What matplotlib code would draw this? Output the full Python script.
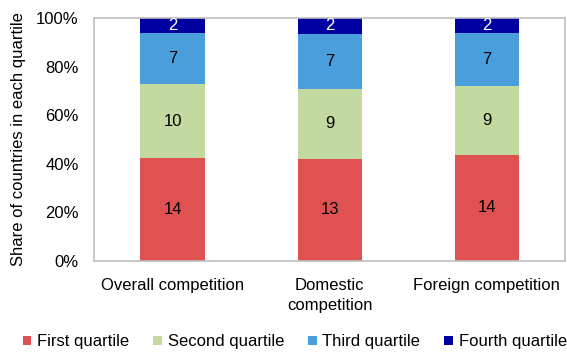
import matplotlib.pyplot as plt
import numpy as np

plt.rcParams['font.family'] = ['Liberation Sans', 'DejaVu Sans']

# Number of countries in each quartile, by type of competition
categories = ["Overall competition", "Domestic\ncompetition", "Foreign competition"]
quartiles = ["First quartile", "Second quartile", "Third quartile", "Fourth quartile"]
first = [14, 13, 14]
second = [10, 9, 9]
third = [7, 7, 7]
fourth = [2, 2, 2]
colors = ["#E05252", "#C2DA9F", "#4A9EDC", "#0000A0"]
text_colors = ["black", "black", "black", "white"]

counts = np.array([first, second, third, fourth], dtype=float)
shares = counts / counts.sum(axis=0) * 100

fig = plt.figure(figsize=(5.67, 3.54), dpi=100)
ax = fig.add_axes([0.166, 0.263, 0.831, 0.686])

fs = 12
x = np.arange(len(categories))
bottom = np.zeros(len(categories))
for i, name in enumerate(quartiles):
    bars = ax.bar(x, shares[i], 0.41, bottom=bottom, color=colors[i], label=name)
    for j, b in enumerate(bars):
        ax.text(b.get_x() + b.get_width() / 2, bottom[j] + shares[i][j] / 2,
                str(int(counts[i][j])), ha="center", va="center",
                fontsize=fs, color=text_colors[i])
    bottom += shares[i]

ax.set_xlim(-0.5, 2.5)
ax.set_ylim(0, 100)
ax.set_yticks(np.arange(0, 101, 20))
ax.set_yticklabels([f"{v}%" for v in range(0, 101, 20)], fontsize=fs)
ax.set_xticks(x)
ax.set_xticklabels(categories, fontsize=fs, linespacing=1.45)
ax.tick_params(axis="x", length=0, pad=12)
ax.tick_params(axis="y", length=0, pad=11)
ax.set_ylabel("Share of countries in each quartile", fontsize=fs, labelpad=7)
for s in ax.spines.values():
    s.set_color("#BFBFBF")
    s.set_linewidth(1.2)

fig.legend(loc="lower center", ncol=4, frameon=False, fontsize=fs,
           bbox_to_anchor=(0.52, -0.02), handlelength=0.5, handleheight=0.5,
           handletextpad=0.35, columnspacing=1.45, borderaxespad=0.3)

fig.savefig("out.png", dpi=100)
